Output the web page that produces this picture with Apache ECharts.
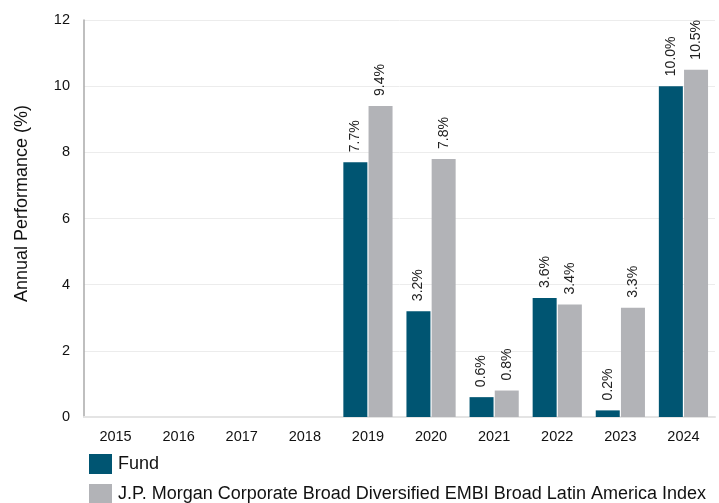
<!DOCTYPE html>
<html>
<head>
<meta charset="utf-8">
<script src="https://cdn.jsdelivr.net/npm/echarts@6/dist/echarts.min.js"></script>
<style>
  html, body { margin: 0; padding: 0; background: #fff; }
  #chart { width: 719px; height: 503px; }
</style>
</head>
<body>
<div id="chart"></div>
<script>
const years = ['2015', '2016', '2017', '2018', '2019', '2020', '2021', '2022', '2023', '2024']
const fundValues = [null, null, null, null, 7.7, 3.2, 0.6, 3.6, 0.2, 10.0]
const indexValues = [null, null, null, null, 9.4, 7.8, 0.8, 3.4, 3.3, 10.5]
const seriesNames = ['Fund', 'J.P. Morgan Corporate Broad Diversified EMBI Broad Latin America Index']

const font = 'Liberation Sans, Arial, sans-serif'
const chart = echarts.init(document.getElementById('chart'))

function barLabel() {
  return {
    show: true,
    position: 'top',
    rotate: 90,
    align: 'left',
    verticalAlign: 'middle',
    distance: 10,
    color: '#222',
    fontFamily: font,
    fontSize: 14,
    formatter: (p) => p.value.toFixed(1) + '%',
  }
}

function legendRow(name, top) {
  return {
    left: 84,
    top,
    icon: 'rect',
    itemWidth: 23,
    itemHeight: 20,
    textStyle: { fontFamily: font, fontSize: 18, color: '#111', padding: [0, 0, 0, 1] },
    data: [name],
  }
}

chart.setOption({
  animation: false,
  grid: { left: 84, right: 4, top: 20, bottom: 86 },
  legend: [legendRow(seriesNames[0], 449), legendRow(seriesNames[1], 479)],
  xAxis: {
    type: 'category',
    data: years,
    axisLine: { lineStyle: { color: '#e4e4e4', width: 2 } },
    axisTick: { show: false },
    axisLabel: { fontFamily: font, fontSize: 14.5, color: '#111', margin: 12 },
  },
  yAxis: {
    type: 'value',
    min: 0,
    max: 12,
    interval: 2,
    name: 'Annual Performance (%)',
    nameLocation: 'middle',
    nameGap: 53,
    nameTextStyle: { fontFamily: font, fontSize: 18, color: '#111', padding: [0, 0, 0, 30] },
    axisLine: { show: true, lineStyle: { color: '#aaa', width: 1.5 } },
    axisLabel: { fontFamily: font, fontSize: 14.5, color: '#111', margin: 14 },
    splitLine: { lineStyle: { color: '#ececec', width: 1 } },
  },
  series: [
    {
      name: seriesNames[0],
      type: 'bar',
      data: fundValues,
      barWidth: 24,
      barGap: '5%',
      itemStyle: { color: '#005572' },
      label: barLabel(),
    },
    {
      name: seriesNames[1],
      type: 'bar',
      data: indexValues,
      barWidth: 24,
      itemStyle: { color: '#b2b3b7' },
      label: barLabel(),
    },
  ],
})
</script>
</body>
</html>
